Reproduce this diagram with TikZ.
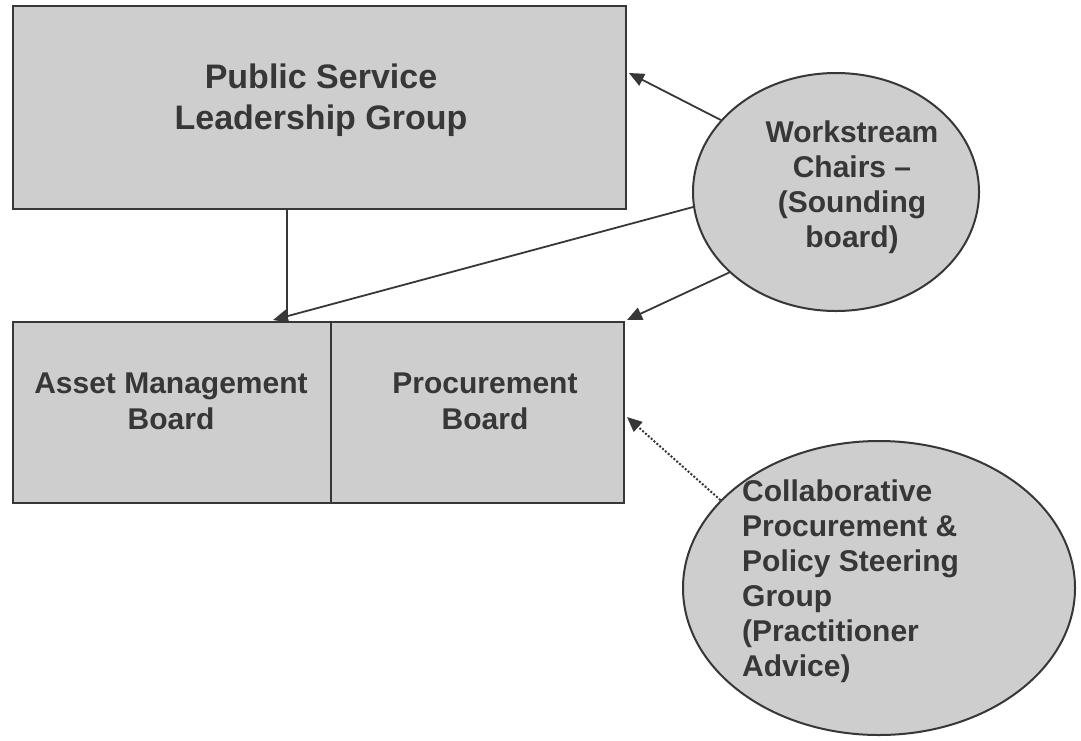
\documentclass[tikz,border=0pt]{standalone}
\usepackage{fontspec}
\setmainfont{Liberation Sans}
\usetikzlibrary{arrows.meta,shapes.geometric,calc}
\definecolor{boxfill}{RGB}{206,206,206}
\definecolor{ink}{RGB}{55,55,55}
\definecolor{txt}{RGB}{55,55,55}
\begin{document}
\begin{tikzpicture}[x=1pt,y=-1pt,
  box/.style={draw=ink, line width=2pt, fill=boxfill, inner sep=0pt, anchor=north west},
  oval/.style={ellipse, draw=ink, line width=2pt, fill=boxfill, inner sep=0pt},
  lbl/.style={text=txt, align=center, inner sep=0pt, font={\fontsize{30}{36}\selectfont\bfseries}},
  conn/.style={draw=ink, line width=1.8pt},
  arr/.style={conn, -{Triangle[length=15pt,width=13pt]}},
  dotarr/.style={draw=ink, line width=2pt, dash pattern=on 2pt off 1.8pt, -{Triangle[length=15pt,width=13pt]}}
]
\useasboundingbox (0,0) rectangle (1081,740);

% boxes
\node[box, minimum width=613pt, minimum height=203pt] (pslg) at (12,5) {};
\node[box, minimum width=318pt, minimum height=181pt] (amb) at (12,321) {};
\node[box, minimum width=293pt, minimum height=181pt] (pb) at (330,321) {};

% ellipses
\node[oval, minimum width=286pt, minimum height=238pt] (ws) at (836,192) {};
\node[oval, minimum width=392pt, minimum height=294pt] (cp) at (879,588) {};

% labels
\node[lbl, font={\fontsize{34}{41}\selectfont\bfseries}] (pslgt) at (321,100) {Public Service\\Leadership Group};
\node[lbl] (ambt) at (171,401) {Asset Management\\Board};
\node[lbl] (pbt) at (485,401) {Procurement\\Board};
\node[lbl, font={\fontsize{30}{35}\selectfont\bfseries}] (wst) at (852,187) {Workstream\\Chairs --\\(Sounding\\board)};
\node[lbl, align=left, anchor=west, font={\fontsize{30}{35}\selectfont\bfseries}] (cpt) at (742,581) {Collaborative\\Procurement \&\\Policy Steering\\Group\\(Practitioner\\Advice)};

% connector targets
\coordinate (t1) at ($(pslg.north east)+(2,68)$);
\coordinate (t2) at ($(amb.north west)+(261,-1)$);
\coordinate (t3) at ($(pb.north east)+(2,-1)$);
\coordinate (t4) at ($(pb.north east)+(2,96)$);

% connectors
\draw[conn] ([xshift=-32.5pt]pslg.south) -- ([xshift=-32.5pt]pslg.south |- amb.north);
\draw[arr] (ws.148) -- (t1);
\draw[arr] (ws.186) -- (t2);
\draw[arr] (ws.217) -- (t3);
\draw[dotarr] (cp.151) -- (t4);
\end{tikzpicture}
\end{document}
